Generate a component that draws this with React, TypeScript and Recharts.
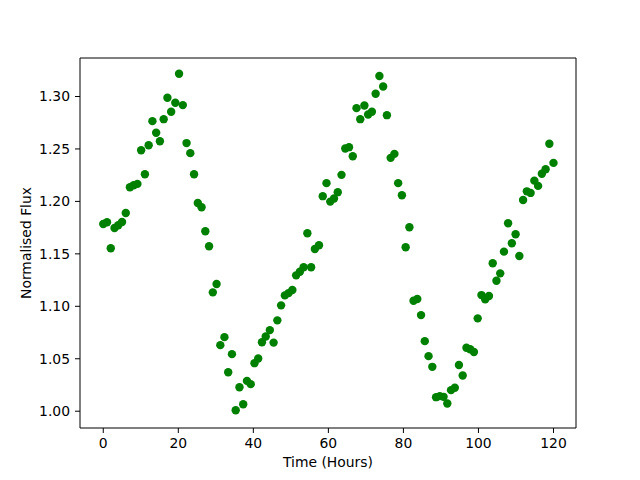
import { ScatterChart, Scatter, XAxis, YAxis, ReferenceLine } from "recharts";

// time stamps (hours)
const hours = [
  0.0, 1.0, 2.0, 3.0, 4.0, 5.0, 6.0, 7.1, 8.1, 9.1,
  10.1, 11.1, 12.1, 13.1, 14.1, 15.1, 16.1, 17.1, 18.1, 19.2,
  20.2, 21.2, 22.2, 23.2, 24.2, 25.2, 26.2, 27.2, 28.2, 29.2,
  30.2, 31.2, 32.3, 33.3, 34.3, 35.3, 36.3, 37.3, 38.3, 39.3,
  40.3, 41.3, 42.3, 43.3, 44.4, 45.4, 46.4, 47.4, 48.4, 49.4,
  50.4, 51.4, 52.4, 53.4, 54.4, 55.4, 56.4, 57.5, 58.5, 59.5,
  60.5, 61.5, 62.5, 63.5, 64.5, 65.5, 66.5, 67.5, 68.5, 69.6,
  70.6, 71.6, 72.6, 73.6, 74.6, 75.6, 76.6, 77.6, 78.6, 79.6,
  80.6, 81.6, 82.7, 83.7, 84.7, 85.7, 86.7, 87.7, 88.7, 89.7,
  90.7, 91.7, 92.7, 93.7, 94.8, 95.8, 96.8, 97.8, 98.8, 99.8,
  100.8, 101.8, 102.8, 103.8, 104.8, 105.8, 106.8, 107.9, 108.9, 109.9,
  110.9, 111.9, 112.9, 113.9, 114.9, 115.9, 116.9, 117.9, 118.9, 120.0,
];

const flux = [
  1.1785, 1.1801, 1.1553, 1.1747, 1.1773, 1.1804, 1.189, 1.2135, 1.2154, 1.2167,
  1.2488, 1.2259, 1.2536, 1.2765, 1.2654, 1.2574, 1.2784, 1.2988, 1.2854, 1.294,
  1.3217, 1.2918, 1.2556, 1.246, 1.2259, 1.1985, 1.1944, 1.1715, 1.1572, 1.1133,
  1.1212, 1.063, 1.0706, 1.0372, 1.0544, 1.0009, 1.0229, 1.0067, 1.0289, 1.0258,
  1.0458, 1.0502, 1.0658, 1.0712, 1.0773, 1.0654, 1.0866, 1.1009, 1.1104, 1.1126,
  1.1155, 1.1295, 1.133, 1.1372, 1.1697, 1.1372, 1.1547, 1.1582, 1.205, 1.2174,
  1.1998, 1.2027, 1.2088, 1.2253, 1.2504, 1.2517, 1.2431, 1.2889, 1.2784, 1.2914,
  1.2828, 1.2854, 1.3026, 1.3195, 1.3096, 1.2822, 1.2415, 1.2453, 1.2174, 1.2059,
  1.1563, 1.1754, 1.1053, 1.1069, 1.0916, 1.0668, 1.0525, 1.0423, 1.0134, 1.0144,
  1.0137, 1.0074, 1.0201, 1.0223, 1.044, 1.0341, 1.0605, 1.059, 1.0564, 1.0885,
  1.1107, 1.1066, 1.1098, 1.141, 1.1244, 1.1314, 1.1521, 1.1792, 1.1601, 1.1687,
  1.148, 1.2014, 1.2096, 1.2081, 1.2198, 1.2148, 1.2263, 1.2307, 1.2549, 1.2367,
];

const xTicks = [0, 20, 40, 60, 80, 100, 120];
const yTicks = [1.0, 1.05, 1.1, 1.15, 1.2, 1.25, 1.3];
const xDomain = [-6.2, 126];
const yDomain = [0.984, 1.3367];

const data = hours.map((t, i) => ({ t, f: flux[i] }));

const font = "DejaVu Sans, sans-serif";
const tickStyle = { fill: "#000", fontSize: 13.9, fontFamily: font };

function Dot(props: any) {
  return <circle cx={props.cx} cy={props.cy} r={4.2} fill="#008000" />;
}

function YLabel() {
  return (
    <text x={31} y={243} transform="rotate(-90 31 243)" textAnchor="middle"
      fontSize={13.9} fontFamily={font} fill="#000">
      Normalised Flux
    </text>
  );
}

function XLabel() {
  return (
    <text x={328} y={467} textAnchor="middle" fontSize={13.9} fontFamily={font} fill="#000">
      Time (Hours)
    </text>
  );
}

export default function App() {
  return (
    <div style={{ position: "absolute", left: 0, top: 0, background: "#fff" }}>
      <ScatterChart width={640} height={480} margin={{ top: 58, right: 64, bottom: 0, left: 0 }}>
        <XAxis dataKey="t" type="number" domain={xDomain} allowDataOverflow ticks={xTicks}
          height={52} tickSize={5} tickMargin={5} tick={tickStyle}
          axisLine={{ stroke: "#000" }} tickLine={{ stroke: "#000" }} label={<XLabel />} />
        <YAxis dataKey="f" type="number" domain={yDomain} allowDataOverflow ticks={yTicks}
          width={80} tickSize={5} tickMargin={5} tick={tickStyle} tickFormatter={(v: number) => v.toFixed(2)}
          axisLine={{ stroke: "#000" }} tickLine={{ stroke: "#000" }} label={<YLabel />} />
        {/* top and right spines */}
        <ReferenceLine y={yDomain[1]} stroke="#000" />
        <ReferenceLine x={xDomain[1]} stroke="#000" />
        <Scatter data={data} fill="#008000" shape={<Dot />} isAnimationActive={false} />
      </ScatterChart>
    </div>
  );
}
